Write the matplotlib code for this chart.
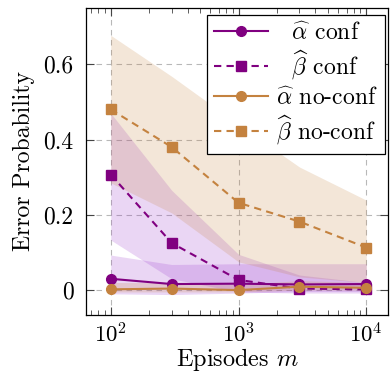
import matplotlib
matplotlib.use("Agg")
import matplotlib.pyplot as plt
import numpy as np
from matplotlib.ticker import LogLocator, FixedLocator, NullFormatter

plt.rcParams['font.family'] = ['cmr10', 'DejaVu Serif']
plt.rcParams['mathtext.fontset'] = 'cm'
plt.rcParams['axes.formatter.use_mathtext'] = True

episodes = [100, 300, 1000, 3000, 10000]

alpha_conf = [0.030, 0.016, 0.017, 0.015, 0.016]
alpha_conf_lo = [-0.010, -0.012, -0.008, -0.004, -0.004]
alpha_conf_hi = [0.093, 0.068, 0.070, 0.070, 0.070]

beta_conf = [0.307, 0.125, 0.027, 0.004, 0.002]
beta_conf_lo = [0.133, 0.030, -0.005, -0.008, -0.008]
beta_conf_hi = [0.470, 0.265, 0.095, 0.040, 0.020]

alpha_noconf = [0.002, 0.004, 0.000, 0.009, 0.006]
alpha_noconf_lo = [-0.005, -0.005, -0.005, 0.000, 0.000]
alpha_noconf_hi = [0.020, 0.020, 0.015, 0.025, 0.020]

beta_noconf = [0.480, 0.380, 0.232, 0.182, 0.113]
beta_noconf_lo = [0.285, 0.205, 0.075, 0.035, 0.020]
beta_noconf_hi = [0.677, 0.568, 0.440, 0.327, 0.239]

purple = '#800080'
purple_band = '#9933CC'
tan = '#C4823F'

fig = plt.figure(figsize=(3.9, 3.74), dpi=100)
ax = fig.add_axes([0.2205, 0.158, 0.7745, 0.821])

ax.fill_between(episodes, alpha_conf_lo, alpha_conf_hi, color=purple_band, alpha=0.2, lw=0)
ax.fill_between(episodes, beta_conf_lo, beta_conf_hi, color=purple_band, alpha=0.2, lw=0)
ax.fill_between(episodes, alpha_noconf_lo, alpha_noconf_hi, color=tan, alpha=0.2, lw=0)
ax.fill_between(episodes, beta_noconf_lo, beta_noconf_hi, color=tan, alpha=0.2, lw=0)

dash = (0, (3.5, 2.5))
ax.plot(episodes, alpha_conf, color=purple, lw=1.5, marker='o', ms=7, label='  ' + r'$\widehat{\alpha}$ conf')
ax.plot(episodes, beta_conf, color=purple, lw=1.5, ls=dash, marker='s', ms=7.5, label='  ' + r'$\widehat{\beta}$ conf')
ax.plot(episodes, alpha_noconf, color=tan, lw=1.5, marker='o', ms=7, label=r'$\widehat{\alpha}$ no-conf')
ax.plot(episodes, beta_noconf, color=tan, lw=1.5, ls=dash, marker='s', ms=7.5, label=r'$\widehat{\beta}$ no-conf')

ax.set_xscale('log')
ax.set_xlim(64, 14800)
ax.set_ylim(-0.066, 0.75)
ax.xaxis.set_major_locator(LogLocator(base=10, numticks=10))
ax.xaxis.set_minor_locator(LogLocator(base=10, subs=np.arange(2, 10), numticks=20))
ax.xaxis.set_minor_formatter(NullFormatter())
ax.yaxis.set_major_locator(FixedLocator([0, 0.2, 0.4, 0.6]))
ax.set_yticklabels(['0', '0.2', '0.4', '0.6'])

ax.tick_params(which='both', direction='in', top=True, right=True, labelsize=17, color='#444444')
ax.tick_params(axis='y', pad=9)
ax.tick_params(axis='x', pad=5, labelsize=16.5)
ax.tick_params(which='major', length=6, width=0.8)
ax.tick_params(which='minor', length=3.5, width=0.6)
ax.grid(True, which='major', ls=(0, (5, 4)), color='#b8b8b8', lw=0.8)
ax.set_axisbelow(True)
for s in ax.spines.values():
    s.set_linewidth(0.9)

ax.set_xlabel(r'Episodes $m$', fontsize=17.5, labelpad=0)
ax.set_ylabel('Error Probability', fontsize=17, labelpad=6)

leg = ax.legend(loc='upper right', bbox_to_anchor=(0.990, 0.977), fontsize=17, handlelength=2.3,
                frameon=True, fancybox=False, edgecolor='black', framealpha=1,
                borderpad=0.3, labelspacing=0.2, handletextpad=0.35, borderaxespad=0)
leg.get_frame().set_linewidth(0.9)

fig.savefig('out.png', dpi=100)
